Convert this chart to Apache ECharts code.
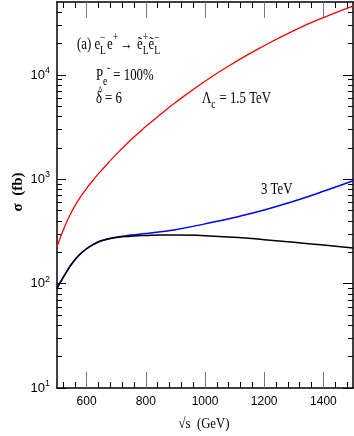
<!DOCTYPE html>
<html><head><meta charset="utf-8">
<script src="https://cdn.jsdelivr.net/npm/echarts@6/dist/echarts.min.js"></script>
<style>html,body{margin:0;padding:0;background:#fff}#c{width:354px;height:436px}</style>
</head><body><div id="c"></div>
<script>
// ---- data ----
var energy = [500,525,550,575,600,625,650,700,750,800,850,900,1000,1100,1200,1300,1400,1500];
var sigmaRed15 = [225,348,492,649,817,1005,1216,1734,2393,3199,4198,5433,8710,13183,19055,26607,35481,45709];
var sigmaBlue3 = [90,120,155,188,216,239,258,279,292,302,314,329,374,431,507,617,767,970];
var sigmaBlackSM = [90,120,155,188,216,239,258,277,285,290,293,293,288,278,264,249,234,220];
var xMajor = [600,800,1000,1200,1400];
var xMinor = [520,560,640,680,720,760,840,880,920,960,1040,1080,1120,1160,1240,1280,1320,1360,1440,1480];
var yMajor = [10,100,1000,10000];
var yMinor = [20,30,40,50,60,70,80,90,200,300,400,500,600,700,800,900,2000,3000,4000,5000,6000,7000,8000,9000,20000,30000,40000];

var SERIF = '"Liberation Serif", "DejaVu Serif", serif';
var SANS = '"Liberation Sans", sans-serif';
var SX = 0.8; // horizontal condensing of annotation text

function pairs(xs, ys){ return xs.map(function(x,i){ return [x, ys[i]]; }); }

var cv = document.createElement('canvas').getContext('2d');
function w(t, size){ cv.font = size + 'px ' + SERIF; return cv.measureText(t).width * SX; }
function txt(t, x, y, size){
  return {type:'text', x:x, y:y, scaleX:SX, style:{text:t, font:size+'px '+SERIF, fill:'#000', align:'left', verticalAlign:'middle'}};
}

// parts: {t, sub, sup, hat}; main text with optional sub/sup stacked after it
function layout(parts, x0, cy, size){
  var els = [], x = x0, ss = Math.round(size*0.72);
  parts.forEach(function(p){
    if (p.t){
      els.push(txt(p.t, x, cy, size));
      if (p.hat) els.push(txt('^', x + 2, cy - 8, ss));
      x += w(p.t, size);
    }
    var adv = 0;
    if (p.sub){ els.push(txt(p.sub, x, cy+6, ss)); adv = Math.max(adv, w(p.sub, ss)); }
    if (p.sup){
      var sh = p.supShift||0;
      els.push(txt(p.sup, x+sh, cy-7, ss)); adv = Math.max(adv, w(p.sup, ss)+sh);
    }
    x += adv + (p.gap||0);
  });
  return els;
}

var graphics = [];
graphics = graphics.concat(layout([
  {t:'(a) e', sub:'L', sup:'\u2212', gap:1},
  {t:'e', sup:'+', gap:2},
  {t:'\u2192 ', gap:1},
  {t:'\u1EBD', sub:'L', sup:'+'},
  {t:'\u1EBD', sub:'L', sup:'\u2212'}
], 77, 45, 16));
graphics = graphics.concat(layout([
  {t:'P', sub:'e', sup:'-', supShift:4, gap:3},
  {t:'= 100%'}
], 96, 76, 16));
graphics = graphics.concat(layout([
  {t:'\u03B4', hat:true, gap:3},
  {t:'= 6'}
], 96, 99, 16));
graphics = graphics.concat(layout([
  {t:'\u039B', sub:'c', gap:4},
  {t:'= 1.5 TeV'}
], 202, 99, 16));
graphics = graphics.concat(layout([
  {t:'3 TeV'}
], 261, 190, 16));
graphics.push({type:'text', x:18, y:192, rotation:Math.PI/2, style:{text:'\u03C3  (fb)', font:'bold 15px '+SERIF, fill:'#000', align:'center', verticalAlign:'middle'}});
graphics.push({type:'text', x:204, y:424, scaleX:0.85, style:{text:'\u221As  (GeV)', font:'15px '+SERIF, fill:'#000', align:'center', verticalAlign:'middle'}});

function xAx(pos, vals, len, labels, line, color){
  return {type:'value', min:500, max:1500, position:pos,
    axisLine:{show:line, onZero:false, lineStyle:{color:'#000', width:1.5}},
    splitLine:{show:false},
    axisTick:{show:true, inside:true, length:len, customValues:vals, lineStyle:{color:color, width:1}},
    axisLabel:{show:labels, customValues:vals, margin:8, color:'#000', fontSize:12, fontFamily:SANS,
      formatter:function(v){ return String(v); }}};
}
function yAx(pos, vals, len, labels, line){
  return {type:'log', logBase:10, min:10, max:50000, position:pos,
    axisLine:{show:line, onZero:false, lineStyle:{color:'#000', width:1.5}},
    splitLine:{show:false}, minorTick:{show:false},
    axisTick:{show:true, inside:true, length:len, customValues:vals, lineStyle:{color:'#000', width:1}},
    axisLabel:{show:labels, customValues:vals, margin:7,
      formatter:function(v){ return '{b|10}{s|' + Math.round(Math.log10(v)) + '}'; },
      rich:{b:{fontSize:13, fontFamily:SANS, color:'#000', lineHeight:18}, s:{fontSize:9, fontFamily:SANS, color:'#000', verticalAlign:'top', lineHeight:18}}}};
}

var option = {
  animation:false,
  backgroundColor:'#fff',
  grid:{left:57, right:1, top:2, bottom:48, containLabel:false},
  xAxis:[
    xAx('bottom', xMajor, 16, true, true, '#777'),
    xAx('bottom', xMinor, 6, false, false, '#000'),
    xAx('top', xMajor, 16, false, true, '#777'),
    xAx('top', xMinor, 6, false, false, '#000')
  ],
  yAxis:[
    yAx('left', yMajor, 9, true, true),
    yAx('left', yMinor, 5, false, false),
    yAx('right', yMajor, 10, false, true),
    yAx('right', yMinor, 5, false, false)
  ],
  series:[
    {type:'line', name:'1.5 TeV', xAxisIndex:0, yAxisIndex:0, data:pairs(energy, sigmaRed15), showSymbol:false, smooth:0.5, lineStyle:{color:'#ff0000', width:1.3}},
    {type:'line', name:'3 TeV', xAxisIndex:0, yAxisIndex:0, data:pairs(energy, sigmaBlue3), showSymbol:false, smooth:0.5, lineStyle:{color:'#0000ff', width:1.5}},
    {type:'line', name:'SM', xAxisIndex:0, yAxisIndex:0, data:pairs(energy, sigmaBlackSM), showSymbol:false, smooth:0.5, lineStyle:{color:'#000', width:1.5}}
  ],
  graphic:{elements:graphics}
};
var chart = echarts.init(document.getElementById('c'), null, {renderer:'canvas'});
chart.setOption(option);
</script></body></html>
